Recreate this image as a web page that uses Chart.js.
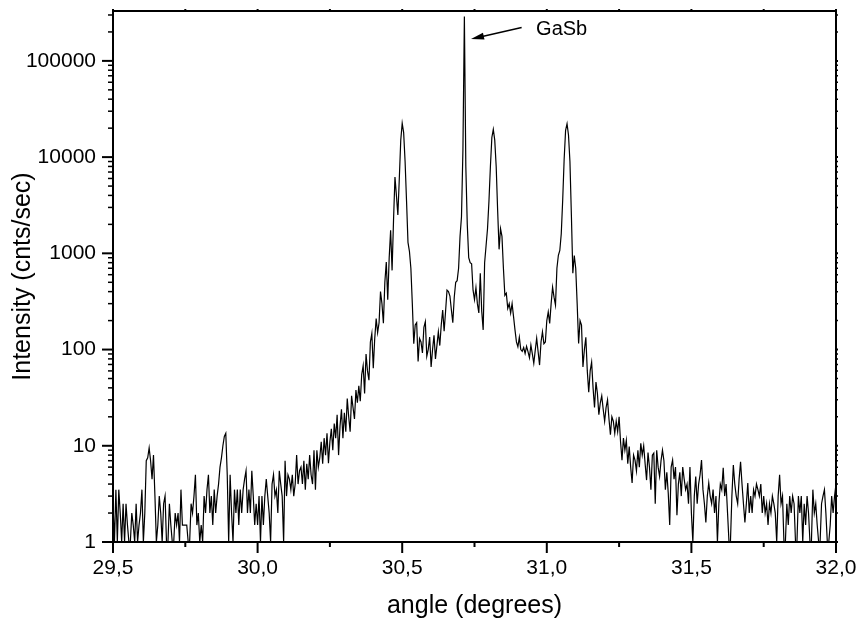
<!DOCTYPE html>
<html>
<head>
<meta charset="utf-8">
<script src="https://cdn.jsdelivr.net/npm/chart.js@4.4.0/dist/chart.umd.min.js"></script>
<style>
  html, body { margin: 0; padding: 0; background: #fff; }
</style>
</head>
<body>
<canvas id="xrdChart" width="860" height="622"></canvas>
<script>
// diffractometer scan: start angle and step (deg)
const SCAN_START = 29.5;
const SCAN_STEP = 0.005;

// intensity in cnts/sec, one value per step, one row per 0.05 deg
const intensity = [
  2.5,1,3.5,1,3.5,2,1,2.5,1,2.5,            // 29.50
  1.5,1,1,2,1.5,1,2.5,1,1.5,2,              // 29.55
  3.5,1,2,7,7.5,9.5,7,4.5,8,3,              // 29.60
  1,1.5,3,2,1,2.5,3,1,1,2.5,                // 29.65
  1.5,1,1,2,1.5,2,1,3.5,1.5,1.5,            // 29.70
  1.5,1.5,1,1,2.5,2,3,5,1.5,2,              // 29.75
  1,1.5,1,3,2,3.5,5,2,3,1.5,                // 29.80
  3.5,2,3,4,6,7.5,10,12.5,13.5,5,           // 29.85
  1,5,2,1,3.5,2,3.5,1.5,3.5,2,              // 29.90
  3.5,4.5,5.5,2,3.5,2,5.5,3,1.5,2.5,        // 29.95
  1.5,3,1,3,1.5,3,4.5,3,2,1,                // 30.00
  4,5,3,3.5,2,5.5,4,3,1,7,                  // 30.05
  3,5,4.5,3.5,5,3,4,8,4,5.5,                // 30.10
  6,4,7,3.5,6.5,4.5,8,5,4,9,                // 30.15
  3.5,9,6,7.5,11,6.5,12,8,13.5,6.6,         // 30.20
  11,15,9,17,12,21,8,16,24,12,              // 30.25
  22,14,31,20,14,33,25,19,38,28,            // 30.30
  42,29,55,68,35,90,60,48,120,147,          // 30.35
  64,130,210,150,190,400,300,188,500,810,   // 30.40
  330,900,1740,665,2200,6200,4000,2500,6000,15000, // 30.45
  22500,18000,9000,3500,1300,1050,700,300,115,180, // 30.50
  190,75,130,120,92,170,195,85,100,135,     // 30.55
  66,100,141,80,110,153,110,180,258,155,    // 30.60
  250,414,400,360,260,190,350,500,520,700,  // 30.65
  1500,2400,12000,290000,8000,2000,900,800,780,414, // 30.70
  330,440,300,240,620,250,160,800,1200,1800,       // 30.75
  3500,8000,16000,19400,15000,8000,2800,1100,1800,1500, // 30.80
  700,366,385,268,300,240,300,220,160,120,  // 30.85
  107,134,100,96,105,91,108,95,82,111,      // 30.90
  90,72,98,131,95,69,120,153,115,120,       // 30.95
  200,246,187,300,445,350,290,700,955,1070, // 31.00
  1600,3600,9500,19000,22200,17000,9000,2500,620,950, // 31.05
  700,300,116,200,180,66,100,134,60,36,     // 31.10
  60,74,40,25,46,35,21,28,33,24,            // 31.15
  18,25,30,19,13,20,18,13.5,18,14,          // 31.20
  20,11,7.1,12,9,11.4,6.5,9.8,6,4.1,        // 31.25
  8,7.1,5.5,9,6,10.6,8,10,6.5,4.4,          // 31.30
  8.5,6,3.5,8,8.4,2.5,9,6,4.8,7,            // 31.35
  9,7,3.5,5.3,3.2,1.5,6,7.1,4.5,6,          // 31.40
  1.9,4,5.3,3,6,4.5,3.5,4,2.5,6,            // 31.45
  2,1,3,4.8,2.5,4,5,7.1,3.5,2.5,            // 31.50
  1.6,3,4.1,3,2.5,3.5,2,3,1,2.5,            // 31.55
  4,3.5,5.9,3,4,2,1,1,3,6.3,                // 31.60
  4,3,2.5,4.5,6.8,4,2.5,1.6,2.5,4.1,        // 31.65
  2,3,2,3.5,3,4,3.5,3,4,2,                  // 31.70
  3,2,2.5,1.5,2.5,2,3,2.5,2,1,              // 31.75
  3,5,2.5,3,1,1,2.5,1.5,3,2,                // 31.80
  3,2.5,1,1,3,2,3,1,2.5,1.5,                // 31.85
  3,2,1,1,3.5,2,2.5,1.5,1,1,                // 31.90
  2.5,3,3.5,2,1,1,1.5,3,2,3,                // 31.95
  4                                         // 32.00
];

const xMajorTicks = [29.5, 30.0, 30.5, 31.0, 31.5, 32.0];
const xMinorTicks = [29.75, 30.25, 30.75, 31.25, 31.75];
const yMajorTicks = [1, 10, 100, 1000, 10000, 100000];
const yMinorFactors = [2, 3, 4, 5, 6, 7, 8, 9];

// annotation, in data units
const peakName = 'GaSb';
const arrowTip = { x: 30.738, y: 169000 };
const arrowTail = { x: 30.913, y: 222000 };
const labelPos = { x: 30.963, y: 210000 };

const FONT = "'Liberation Sans', Arial, sans-serif";

const points = intensity.map((v, i) => ({ x: +(SCAN_START + i * SCAN_STEP).toFixed(3), y: v }));

// frame, inner/outer tick marks and the GaSb arrow
const framePlugin = {
  id: 'frame',
  afterDatasetsDraw(chart) {
    const { ctx, chartArea: a, scales: { x, y } } = chart;
    ctx.save();
    ctx.strokeStyle = '#000';
    ctx.fillStyle = '#000';
    ctx.lineWidth = 2;
    ctx.strokeRect(a.left, a.top, a.right - a.left, a.bottom - a.top);

    const line = (x1, y1, x2, y2) => {
      ctx.beginPath(); ctx.moveTo(x1, y1); ctx.lineTo(x2, y2); ctx.stroke();
    };
    xMajorTicks.forEach(v => {
      const px = x.getPixelForValue(v);
      line(px, a.bottom, px, a.bottom + 11);
      line(px, a.top, px, a.top - 2);
    });
    xMinorTicks.forEach(v => {
      const px = x.getPixelForValue(v);
      line(px, a.bottom, px, a.bottom + 5);
      line(px, a.top, px, a.top - 2);
    });
    yMajorTicks.forEach(v => {
      const py = y.getPixelForValue(v);
      line(a.left - 11, py, a.left, py);
      line(a.right, py, a.right + 2, py);
    });
    ctx.lineWidth = 1.5;
    yMajorTicks.forEach(d => {
      yMinorFactors.forEach(f => {
        const v = d * f;
        if (v > y.max) return;
        const py = y.getPixelForValue(v);
        line(a.left - 5, py, a.left, py);
        line(a.right, py, a.right + 2, py);
      });
    });

    // arrow pointing at the substrate peak
    const tx = x.getPixelForValue(arrowTip.x), ty = y.getPixelForValue(arrowTip.y);
    const sx = x.getPixelForValue(arrowTail.x), sy = y.getPixelForValue(arrowTail.y);
    const ang = Math.atan2(ty - sy, tx - sx);
    const head = 13, half = 3.5;
    ctx.lineWidth = 1.5;
    line(sx, sy, tx - Math.cos(ang) * head * 0.8, ty - Math.sin(ang) * head * 0.8);
    ctx.beginPath();
    ctx.moveTo(tx, ty);
    ctx.lineTo(tx - Math.cos(ang) * head - Math.sin(ang) * half, ty - Math.sin(ang) * head + Math.cos(ang) * half);
    ctx.lineTo(tx - Math.cos(ang) * head + Math.sin(ang) * half, ty - Math.sin(ang) * head - Math.cos(ang) * half);
    ctx.closePath();
    ctx.fill();

    ctx.font = '20px ' + FONT;
    ctx.textAlign = 'left';
    ctx.textBaseline = 'middle';
    ctx.fillText(peakName, x.getPixelForValue(labelPos.x), y.getPixelForValue(labelPos.y));
    ctx.restore();
  }
};

const ctx = document.getElementById('xrdChart').getContext('2d');

new Chart(ctx, {
  type: 'line',
  data: {
    datasets: [{
      data: points,
      borderColor: '#000',
      borderWidth: 1.2,
      pointRadius: 0,
      tension: 0,
      fill: false
    }]
  },
  options: {
    responsive: false,
    animation: false,
    layout: { padding: { top: 11, right: 24, left: 0, bottom: 0 } },
    plugins: { legend: { display: false }, tooltip: { enabled: false } },
    scales: {
      x: {
        type: 'linear',
        min: 29.5,
        max: 32.0,
        afterBuildTicks: s => { s.ticks = xMajorTicks.map(v => ({ value: v })); },
        afterFit: s => { s.height = 80; s.paddingLeft = 0; s.paddingRight = 0; },
        grid: { display: false, drawTicks: false },
        border: { display: false },
        ticks: {
          padding: 14,
          color: '#000',
          maxRotation: 0,
          autoSkip: false,
          font: { family: FONT, size: 21 },
          callback: v => v.toFixed(1).replace('.', ',')
        },
        title: {
          display: true,
          text: 'angle (degrees)',
          color: '#000',
          font: { family: FONT, size: 25 },
          padding: { top: 0, bottom: 1 }
        }
      },
      y: {
        type: 'logarithmic',
        min: 1,
        max: 330000,
        afterBuildTicks: s => { s.ticks = yMajorTicks.map(v => ({ value: v })); },
        afterFit: s => { s.width = 113; s.paddingTop = 0; s.paddingBottom = 0; },
        grid: { display: false, drawTicks: false },
        border: { display: false },
        ticks: {
          padding: 17,
          color: '#000',
          autoSkip: false,
          font: { family: FONT, size: 21 },
          callback: v => String(v)
        },
        title: {
          display: true,
          text: 'Intensity (cnts/sec)',
          color: '#000',
          font: { family: FONT, size: 25 },
          padding: { top: 8, bottom: 0 }
        }
      }
    }
  },
  plugins: [framePlugin]
});
</script>
</body>
</html>
